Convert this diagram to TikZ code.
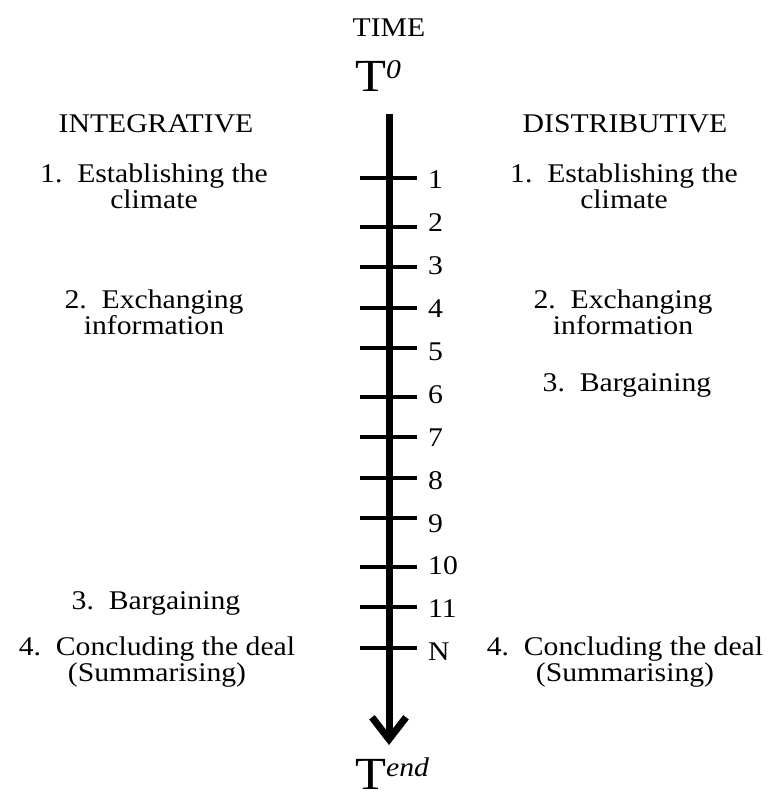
\documentclass[tikz,border=0pt]{standalone}
\usepackage{fontspec}
\setmainfont{Liberation Serif}[FakeStretch=1.1]
\usetikzlibrary{arrows.meta}

\tikzset{
  lbl/.style={font=\fontsize{27}{26}\selectfont, inner sep=0pt, align=center},
  num/.style={font=\fontsize{27}{26}\selectfont, inner sep=0pt, anchor=west},
  big/.style={inner sep=0pt, anchor=base west},
  axis/.style={line width=7pt, -{Straight Barb[length=22pt, width=34pt, line width=7pt]}},
  tick/.style={line width=4pt}
}
\newcommand{\bigT}[1]{\fontsize{46}{46}\selectfont T\raisebox{13pt}{\fontsize{27}{27}\selectfont\itshape #1}}

\begin{document}
\begin{tikzpicture}[x=1pt, y=-1pt]
  \useasboundingbox (0,0) rectangle (769,801);

  % heading and time marks
  \node[lbl] (time) at (389,28) {TIME};
  \node[big] (t0) at (355,91) {\bigT{0}};
  \node[big] (tend) at (355,789) {\bigT{end}};

  % time axis
  \coordinate (axtop) at (389,114);
  \coordinate (axbot) at (389,745);
  \draw[axis] (axtop) -- (axbot);

  % ticks and their numbers
  \foreach \y [count=\i] in {178,227,267,308,348,397,437,478,518,567,607,648} {
    \coordinate (tl\i) at (360,\y);
    \coordinate (tr\i) at (417,\y);
    \draw[tick] (tl\i) -- (tr\i);
  }
  \foreach \t [count=\i] in {1,2,3,4,5,6,7,8,9,10,11,N} {
    \node[num] (n\i) at (428,{180+42.9*(\i-1)}) {\t};
  }

  % integrative column
  \node[lbl] (integ) at (156,124) {INTEGRATIVE};
  \node[lbl] (i1) at (154,186) {1.\ \ Establishing the\\climate};
  \node[lbl] (i2) at (154,312) {2.\ \ Exchanging\\information};
  \node[lbl] (i3) at (156,603) {3.\ \ Bargaining};
  \node[lbl] (i4) at (157,662) {4.\ \ Concluding the deal\\(Summarising)};

  % distributive column
  \node[lbl] (distr) at (625,124) {DISTRIBUTIVE};
  \node[lbl] (d1) at (624,186) {1.\ \ Establishing the\\climate};
  \node[lbl] (d2) at (623,312) {2.\ \ Exchanging\\information};
  \node[lbl] (d3) at (627,385) {3.\ \ Bargaining};
  \node[lbl] (d4) at (625,662) {4.\ \ Concluding the deal\\(Summarising)};
\end{tikzpicture}
\end{document}
